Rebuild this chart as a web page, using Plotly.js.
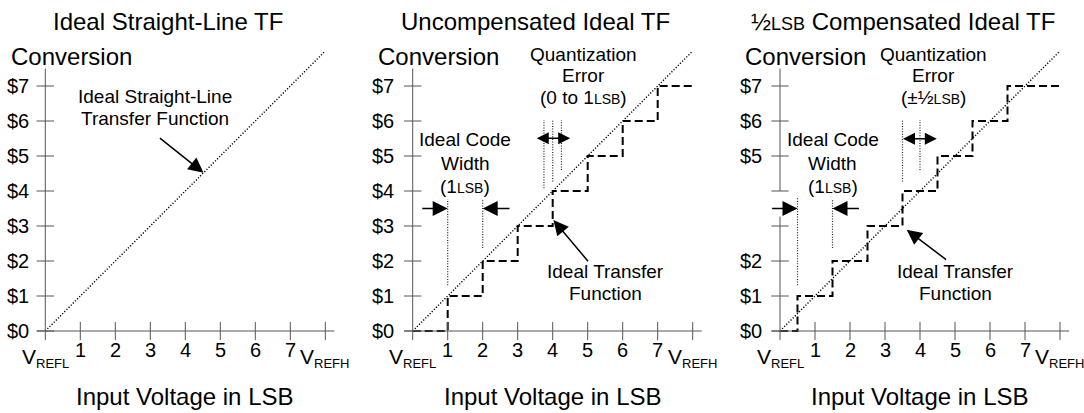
<!DOCTYPE html>
<html><head><meta charset="utf-8">
<script src="https://cdn.plot.ly/plotly-3.0.1.min.js"></script>
<style>html,body{margin:0;padding:0;background:#fff}</style>
</head><body><div id="chart" style="width:1084px;height:413px"></div>
<script>
// ---------------- data ----------------
const panelTitles = ['Ideal Straight-Line TF', 'Uncompensated Ideal TF', '½<span style="font-size:18px">LSB</span> Compensated Ideal TF'];
const xTickVals = [1, 2, 3, 4, 5, 6, 7, 8];
const xTickLabels = ['1', '2', '3', '4', '5', '6', '7'];
const yTickVals = [0, 1, 2, 3, 4, 5, 6, 7];
const yTickLabels = ['$0', '$1', '$2', '$3', '$4', '$5', '$6', '$7'];
const yTickLabelsComp = ['$0', '$1', '$2', '', '', '$5', '$6', '$7'];
const idealLineX = [0, 8];
const idealLineY = [0, 8];
const uncompStepX = [0, 1, 2, 3, 4, 5, 6, 7, 8];
const uncompStepY = [0, 1, 2, 3, 4, 5, 6, 7, 7];
const compStepX = [0, 0.5, 1.5, 2.5, 3.5, 4.5, 5.5, 6.5, 8];
const compStepY = [0, 1, 2, 3, 4, 5, 6, 7, 7];

// ---------------- layout geometry ----------------
const W = 1084, H = 413, S = 35, OY = 331;
const OX = [45.3, 412.7, 780];
const PX = [[0, 360], [360, 720], [720, 1084]];
const FONT = '"Liberation Sans", Arial, Helvetica, sans-serif';
const AXC = '#555';

const layout = {
  width: W, height: H, margin: {l: 0, r: 0, t: 0, b: 0},
  paper_bgcolor: '#fff', plot_bgcolor: 'rgba(0,0,0,0)', showlegend: false,
  font: {family: FONT, color: '#000', size: 20},
  shapes: [], annotations: []
};
function sfx(i) { return i ? String(i + 1) : ''; }
for (let i = 0; i < 3; i++) {
  layout['xaxis' + sfx(i)] = {domain: [PX[i][0] / W, PX[i][1] / W],
    range: [(PX[i][0] - OX[i]) / S, (PX[i][1] - OX[i]) / S], visible: false, fixedrange: true, anchor: 'y' + sfx(i)};
  layout['yaxis' + sfx(i)] = {domain: [0, 1], range: [(OY - H) / S, OY / S], visible: false, fixedrange: true, anchor: 'x' + sfx(i)};
}
function ref(i) { return {xref: 'x' + sfx(i), yref: 'y' + sfx(i)}; }
function seg(i, x0, y0, x1, y1, line) {
  layout.shapes.push(Object.assign({type: 'line', x0, y0, x1, y1, line: line || {color: AXC, width: 1}}, ref(i)));
}
function txt(i, x, y, text, size, extra) {
  layout.annotations.push(Object.assign({x, y, text, showarrow: false, xanchor: 'center', yanchor: 'middle',
    font: {family: FONT, size: size, color: '#000'}, borderpad: 0}, ref(i), extra || {}));
}
function arrow(i, tx, ty, hx, hy, both) {
  const r = ref(i);
  const sz = both ? 1.6 : 2.0;
  layout.annotations.push(Object.assign({x: hx, y: hy, ax: tx, ay: ty, axref: r.xref, ayref: r.yref, text: '',
    showarrow: true, arrowhead: 2, arrowsize: sz, arrowwidth: 1.5, arrowcolor: '#000',
    arrowside: both ? 'end+start' : 'end', startarrowhead: 2, startarrowsize: sz,
    standoff: 0, startstandoff: 0, borderpad: 0}, r));
}
const DOTTED = {color: '#222', width: 1.2, dash: '1px,1.6px'};
const SUB = s => '<sub><span style="font-size:13px">' + s + '</span></sub>';

// axes, ticks and tick labels
const yLabelRight = [-0.44, -0.5, -0.48];
for (let i = 0; i < 3; i++) {
  seg(i, -0.24, 0, 8.26, 0);
  xTickVals.forEach(v => seg(i, v, -0.26, v, 0.26));
  if (i < 2) seg(i, 0, -0.26, 0, 7.5);
  else { seg(i, 0, -0.26, 0, 3.27); seg(i, 0, 4, 0, 7.5); }
  yTickVals.forEach(v => seg(i, -0.25, v, 0.25, v));
  const labs = i === 2 ? yTickLabelsComp : yTickLabels;
  yTickVals.forEach((v, k) => { if (labs[k]) txt(i, yLabelRight[i], v, labs[k], 20, {xanchor: 'right'}); });
  xTickLabels.forEach((t, k) => txt(i, xTickVals[k], -0.54, t, 20));
  txt(i, 0, -0.78, 'V' + SUB('REFL'), 21);
  txt(i, 7.98, -0.78, 'V' + SUB('REFH'), 21);
  txt(i, 3.5, 8.83, panelTitles[i], 24);
  txt(i, [0.76, 0.75, 0.74][i], 7.83, 'Conversion', 24);
  txt(i, 4, -1.88, 'Input Voltage in LSB', 24);
}

// panel 1 annotation
txt(0, 3.13, 6.69, 'Ideal Straight-Line', 19);
txt(0, 3.13, 6.07, 'Transfer Function', 19);
arrow(0, 3.26, 5.52, 4.52, 4.52);

// panel 2 annotations
const LSB = '<span style="font-size:14px">LSB</span>';
txt(1, 4.87, 7.89, 'Quantization', 19);
txt(1, 4.87, 7.30, 'Error', 19);
txt(1, 4.87, 6.67, '(0 to 1' + LSB + ')', 19);
seg(1, 3.75, 4.08, 3.75, 6.03, DOTTED);
seg(1, 4.0, 4.27, 4.0, 6.03, DOTTED);
seg(1, 4.25, 4.6, 4.25, 6.03, DOTTED);
arrow(1, 3.53, 5.51, 4.5, 5.51, true);
txt(1, 1.5, 5.46, 'Ideal Code', 19);
txt(1, 1.5, 4.80, 'Width', 19);
txt(1, 1.5, 4.13, '(1' + LSB + ')', 19);
seg(1, 1, 1.31, 1, 3.77, DOTTED);
seg(1, 2, 2.37, 2, 3.77, DOTTED);
arrow(1, 0.26, 3.5, 1.0, 3.5);
arrow(1, 2.78, 3.5, 2.0, 3.5);
txt(1, 5.52, 1.70, 'Ideal Transfer', 19);
txt(1, 5.52, 1.06, 'Function', 19);
arrow(1, 5.02, 1.98, 4.02, 3.17);

// panel 3 annotations
txt(2, 4.38, 7.89, 'Quantization', 19);
txt(2, 4.38, 7.30, 'Error', 19);
txt(2, 4.38, 6.67, '(±½' + LSB + ')', 19);
seg(2, 3.5, 4.27, 3.5, 6.03, DOTTED);
seg(2, 4.0, 4.6, 4.0, 6.03, DOTTED);
arrow(2, 3.5, 5.49, 4.48, 5.49, true);
txt(2, 1.51, 5.46, 'Ideal Code', 19);
txt(2, 1.51, 4.80, 'Width', 19);
txt(2, 1.51, 4.13, '(1' + LSB + ')', 19);
seg(2, 0.5, 1.31, 0.5, 3.8, DOTTED);
seg(2, 1.5, 2.37, 1.5, 3.77, DOTTED);
arrow(2, -0.24, 3.5, 0.5, 3.5);
arrow(2, 2.27, 3.5, 1.5, 3.5);
txt(2, 5.01, 1.70, 'Ideal Transfer', 19);
txt(2, 5.01, 1.06, 'Function', 19);
arrow(2, 4.76, 2.03, 3.62, 2.89);

// ---------------- traces ----------------
const traces = [];
for (let i = 0; i < 3; i++) {
  traces.push({x: idealLineX, y: idealLineY, type: 'scatter', mode: 'lines', xaxis: 'x' + sfx(i), yaxis: 'y' + sfx(i),
    line: {color: '#000', width: 1.4, dash: '1.2px,1.8px'}, hoverinfo: 'skip'});
}
traces.push({x: uncompStepX, y: uncompStepY, type: 'scatter', mode: 'lines', xaxis: 'x2', yaxis: 'y2',
  line: {color: '#000', width: 2, dash: '8px,4px', shape: 'hv'}, hoverinfo: 'skip'});
traces.push({x: compStepX, y: compStepY, type: 'scatter', mode: 'lines', xaxis: 'x3', yaxis: 'y3',
  line: {color: '#000', width: 2, dash: '8px,4px', shape: 'hv'}, hoverinfo: 'skip'});

Plotly.newPlot('chart', traces, layout, {staticPlot: true, displayModeBar: false});
</script>
</body></html>
